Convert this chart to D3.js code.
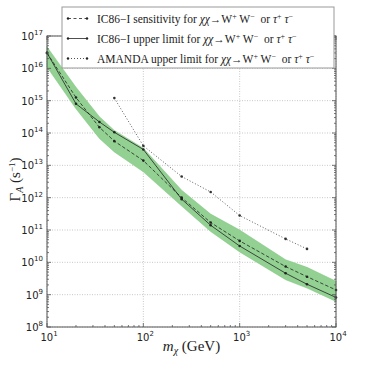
<!DOCTYPE html>
<html>
<head>
<meta charset="utf-8">
<script src="https://cdn.jsdelivr.net/npm/d3@7"></script>
<style>
  body { margin: 0; background: #fff; }
  svg { display: block; }
  text { white-space: pre; }
</style>
</head>
<body>
<div id="chart"></div>
<script>
// masses (GeV)
const masses = [10, 20, 35, 50, 100, 250, 500, 1000, 3000, 5000, 10000];
const sensitivity = [3.0e16, 1.25e15, 1.5e14, 5.6e13, 1.4e13, 1.0e12, 1.7e11, 4.6e10, 7.4e9, 3.6e9, 1.4e9];
const upperLimit = [3.0e16, 8.0e14, 2.2e14, 1.05e14, 3.1e13, 9.0e11, 1.4e11, 3.2e10, 4.6e9, 2.1e9, 8.2e8];
const bandLow = [1.1e16, 5.6e14, 6.8e13, 2.6e13, 6.3e12, 5.5e11, 9.0e10, 2.1e10, 2.9e9, 1.6e9, 6.2e8];
const bandHigh = [4.6e16, 2.6e15, 3.2e14, 1.2e14, 3.4e13, 1.7e12, 3.1e11, 1.0e11, 1.2e10, 7.0e9, 2.6e9];
const amandaMasses = [50, 100, 250, 500, 1000, 3000, 5000];
const amandaLimit = [1.2e15, 4.0e13, 4.5e12, 1.5e12, 2.8e11, 5.3e10, 2.6e10];
const xTicks = [1, 2, 3, 4];
const yTicks = [8, 9, 10, 11, 12, 13, 14, 15, 16, 17];

const W = 374, H = 374;
const margin = { top: 36, right: 38, bottom: 47, left: 47 };
const width = W - margin.left - margin.right;
const height = H - margin.top - margin.bottom;

const svg = d3.select("#chart").append("svg")
  .attr("width", W).attr("height", H);
const g = svg.append("g")
  .attr("transform", `translate(${margin.left},${margin.top})`);

const x = d3.scaleLog().domain([10, 1e4]).range([0, width]);
const y = d3.scaleLog().domain([1e8, 1e17]).range([height, 0]);

// grid
xTicks.forEach(e => {
  g.append("line")
    .attr("x1", x(10 ** e)).attr("x2", x(10 ** e))
    .attr("y1", 0).attr("y2", height)
    .attr("stroke", "#b0b0b0").attr("stroke-width", 0.7)
    .attr("stroke-dasharray", "1,1.5");
});
yTicks.forEach(e => {
  g.append("line")
    .attr("x1", 0).attr("x2", width)
    .attr("y1", y(10 ** e)).attr("y2", y(10 ** e))
    .attr("stroke", "#b0b0b0").attr("stroke-width", 0.7)
    .attr("stroke-dasharray", "1,1.5");
});

// band
const area = d3.area()
  .x((d, i) => x(masses[i]))
  .y0((d, i) => y(bandLow[i]))
  .y1((d, i) => y(bandHigh[i]));
g.append("path").datum(masses)
  .attr("d", area)
  .attr("fill", "#93d193")
  .attr("stroke", "#7cc27c").attr("stroke-width", 0.5);

const line = d3.line().x(d => x(d[0])).y(d => y(d[1]));

function series(xs, ys, dash, color) {
  const pts = xs.map((m, i) => [m, ys[i]]);
  g.append("path").datum(pts)
    .attr("d", line)
    .attr("fill", "none")
    .attr("stroke", color)
    .attr("stroke-width", 0.8)
    .attr("stroke-dasharray", dash);
  g.selectAll(null).data(pts).enter().append("circle")
    .attr("cx", d => x(d[0])).attr("cy", d => y(d[1]))
    .attr("r", 1.3).attr("fill", color);
}

series(amandaMasses, amandaLimit, "1,2", "#333");
series(masses, sensitivity, "3.5,2", "#222");
series(masses, upperLimit, null, "#222");

// axes frame with inward ticks
const frameColor = "#555";
g.append("rect").attr("width", width).attr("height", height)
  .attr("fill", "none").attr("stroke", frameColor).attr("stroke-width", 1);

function minorVals(lo, hi) {
  const out = [];
  for (let e = lo; e < hi; e++) for (let k = 2; k <= 9; k++) out.push(k * 10 ** e);
  return out;
}
const ticksG = g.append("g").attr("stroke", frameColor).attr("stroke-width", 0.8);
minorVals(1, 4).forEach(v => {
  ticksG.append("line").attr("x1", x(v)).attr("x2", x(v)).attr("y1", height).attr("y2", height - 2);
  ticksG.append("line").attr("x1", x(v)).attr("x2", x(v)).attr("y1", 0).attr("y2", 2);
});
minorVals(8, 17).forEach(v => {
  ticksG.append("line").attr("y1", y(v)).attr("y2", y(v)).attr("x1", 0).attr("x2", 2);
  ticksG.append("line").attr("y1", y(v)).attr("y2", y(v)).attr("x1", width).attr("x2", width - 2);
});
xTicks.forEach(e => {
  ticksG.append("line").attr("x1", x(10 ** e)).attr("x2", x(10 ** e)).attr("y1", height).attr("y2", height - 4);
  ticksG.append("line").attr("x1", x(10 ** e)).attr("x2", x(10 ** e)).attr("y1", 0).attr("y2", 4);
});
yTicks.forEach(e => {
  ticksG.append("line").attr("y1", y(10 ** e)).attr("y2", y(10 ** e)).attr("x1", 0).attr("x2", 4);
  ticksG.append("line").attr("y1", y(10 ** e)).attr("y2", y(10 ** e)).attr("x1", width).attr("x2", width - 4);
});

// tick labels
const tickFont = "DejaVu Sans, sans-serif";
function powLabel(sel, e) {
  sel.append("tspan").text("10");
  sel.append("tspan").attr("dy", -5).attr("font-size", 7).text(e);
}
xTicks.forEach(e => {
  const t = g.append("text")
    .attr("x", x(10 ** e) + 2).attr("y", height + 14)
    .attr("text-anchor", "middle")
    .attr("font-family", tickFont).attr("font-size", 10).attr("fill", "#222");
  powLabel(t, e);
});
yTicks.forEach(e => {
  const t = g.append("text")
    .attr("x", -4).attr("y", y(10 ** e) + 4)
    .attr("text-anchor", "end")
    .attr("font-family", tickFont).attr("font-size", 10).attr("fill", "#222");
  powLabel(t, e);
});

// axis titles
const serif = "Liberation Serif, DejaVu Serif, serif";
const xl = svg.append("text")
  .attr("x", margin.left + width / 2).attr("y", 351)
  .attr("text-anchor", "middle")
  .attr("font-family", serif).attr("font-size", 15).attr("fill", "#222");
xl.append("tspan").attr("font-style", "italic").text("m");
xl.append("tspan").attr("font-style", "italic").attr("font-size", 10).attr("dy", 3).text("χ");
xl.append("tspan").attr("dy", -3).text(" (GeV)");

const yl = svg.append("text")
  .attr("transform", `translate(20,${margin.top + height / 2 - 2}) rotate(-90)`)
  .attr("text-anchor", "middle")
  .attr("font-family", serif).attr("font-size", 15).attr("fill", "#222");
yl.append("tspan").text("Γ");
yl.append("tspan").attr("font-style", "italic").attr("font-size", 10).attr("dy", 3).text("A");
yl.append("tspan").attr("dy", -3).text(" (s");
yl.append("tspan").attr("dy", -5).attr("font-size", 9).text("−1");
yl.append("tspan").attr("dy", 5).text(")");

// legend
const legendItems = [
  { name: "IC86−I sensitivity for ", dash: "3,2.5" },
  { name: "IC86−I upper limit for ", dash: null },
  { name: "AMANDA upper limit for ", dash: "1,2" }
];
const lg = svg.append("g");
lg.append("rect")
  .attr("x", 62).attr("y", 7).attr("width", 272).attr("height", 61)
  .attr("fill", "#fff").attr("stroke", "#999").attr("stroke-width", 1);
legendItems.forEach((d, i) => {
  const ly = 18.5 + i * 20;
  lg.append("line").attr("x1", 68).attr("x2", 87).attr("y1", ly).attr("y2", ly)
    .attr("stroke", "#222").attr("stroke-width", 0.8).attr("stroke-dasharray", d.dash);
  [68, 87].forEach(cx => lg.append("circle").attr("cx", cx).attr("cy", ly).attr("r", 1.2).attr("fill", "#222"));
  const t = lg.append("text").attr("x", 97).attr("y", ly + 4)
    .attr("font-family", serif).attr("font-size", 11.5).attr("fill", "#222");
  t.append("tspan").text(d.name);
  t.append("tspan").attr("font-style", "italic").text("χχ");
  t.append("tspan").text("→W");
  t.append("tspan").attr("dy", -4).attr("font-size", 8).text("+");
  t.append("tspan").attr("dy", 4).text(" W");
  t.append("tspan").attr("dy", -4).attr("font-size", 8).text("−");
  t.append("tspan").attr("dy", 4).text("  or ");
  t.append("tspan").attr("font-style", "italic").text("τ");
  t.append("tspan").attr("dy", -4).attr("font-size", 8).text("+");
  t.append("tspan").attr("dy", 4).attr("font-style", "italic").text(" τ");
  t.append("tspan").attr("dy", -4).attr("font-size", 8).text("−");
});
</script>
</body>
</html>
